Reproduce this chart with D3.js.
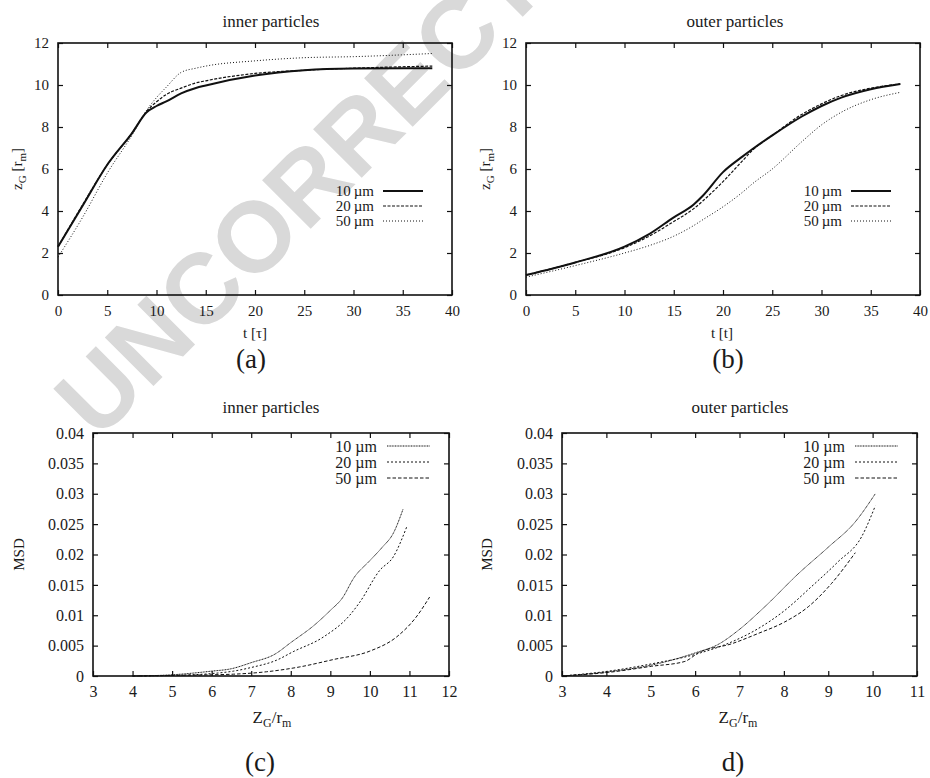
<!DOCTYPE html>
<html>
<head>
<meta charset="utf-8">
<script src="https://cdn.jsdelivr.net/npm/d3@7"></script>
<style>
  body { margin: 0; background: #fff; }
  text { font-family: "Liberation Serif", "DejaVu Serif", serif; fill: #1a1a1a; }
</style>
</head>
<body>
<div id="chart"></div>
<script>
// legend labels
const sizes = ["10 µm", "20 µm", "50 µm"];

// (a) inner particles, z_G vs t
const tInner = [0, 2.5, 5, 7.5, 9, 10, 11, 12.5, 14, 15, 20, 25, 30, 38];
const zInner10 = [2.3, 4.25, 6.2, 7.7, 8.7, 9.0, 9.22, 9.6, 9.86, 9.98, 10.45, 10.7, 10.78, 10.8];
const zInner20 = [2.3, 4.3, 6.2, 7.7, 8.75, 9.2, 9.55, 9.85, 10.1, 10.2, 10.55, 10.7, 10.8, 10.9];
const zInner50 = [1.8, 3.7, 5.8, 7.6, 8.8, 9.4, 9.9, 10.6, 10.8, 10.9, 11.15, 11.3, 11.35, 11.5];

// (b) outer particles, z_G vs t
const tOuter = [0, 5, 10, 12.5, 15, 17, 18, 20, 22, 23, 25, 28, 30, 32, 35, 38];
const zOuter10 = [0.95, 1.55, 2.3, 2.9, 3.7, 4.3, 4.75, 5.85, 6.6, 6.95, 7.6, 8.5, 9.0, 9.4, 9.8, 10.05];
const zOuter20 = [0.95, 1.55, 2.25, 2.8, 3.5, 4.1, 4.5, 5.4, 6.4, 6.9, 7.6, 8.6, 9.1, 9.5, 9.85, 10.05];
const zOuter50 = [0.85, 1.4, 2.0, 2.35, 2.8, 3.3, 3.6, 4.2, 4.9, 5.3, 6.0, 7.3, 8.1, 8.7, 9.3, 9.65];

// (c) inner particles, MSD vs z_G
const msdInner10x = [4, 5, 6, 6.5, 7, 7.6, 8, 8.6, 9, 9.3, 9.6, 10, 10.3, 10.6, 10.84];
const msdInner10y = [0, 0.0002, 0.0008, 0.0012, 0.0022, 0.0036, 0.0055, 0.0084, 0.0108, 0.0128, 0.0162, 0.019, 0.0211, 0.0236, 0.0275];
const msdInner20x = [4, 5, 6, 6.55, 7, 7.64, 8.06, 8.82, 9.49, 9.75, 10.25, 10.59, 10.94];
const msdInner20y = [0, 0.0001, 0.0004, 0.0008, 0.0014, 0.0026, 0.004, 0.0064, 0.010, 0.0122, 0.0174, 0.0196, 0.0247];
const msdInner50x = [4, 5, 6, 6.55, 7.39, 8.23, 9.07, 10, 10.67, 11.17, 11.51];
const msdInner50y = [0, 0.0001, 0.0002, 0.0003, 0.0007, 0.0015, 0.0027, 0.0041, 0.0064, 0.0097, 0.013];

// (d) outer particles, MSD vs z_G
const msdOuter10x = [3, 4.05, 5.02, 6.0, 6.52, 6.97, 7.57, 8.32, 9.0, 9.6, 10.06];
const msdOuter10y = [0, 0.0007, 0.0018, 0.0038, 0.0052, 0.0075, 0.0114, 0.0168, 0.0212, 0.0253, 0.030];
const msdOuter20x = [3, 4.05, 5.02, 6.07, 6.82, 7.42, 8.02, 8.62, 9.22, 9.75, 10.06];
const msdOuter20y = [0, 0.0008, 0.002, 0.0037, 0.0056, 0.0078, 0.0108, 0.0147, 0.0188, 0.0229, 0.028];
const msdOuter50x = [3, 4.05, 5.02, 5.77, 6.07, 6.82, 7.42, 8.02, 8.55, 9.07, 9.61];
const msdOuter50y = [0, 0.0006, 0.0016, 0.0024, 0.0038, 0.0053, 0.007, 0.0089, 0.0114, 0.0152, 0.0203];

const zip = (xs, ys) => xs.map((x, i) => [x, ys[i]]);

// line styles: top row (gnuplot lt 1..3), bottom row
const styleTop = [
  {w: 2.0, dash: null},
  {w: 1.2, dash: "3,1.5"},
  {w: 1.0, dash: "1,2"}
];
const styleBottom = [
  {w: 1.0, dash: "1,0.6"},
  {w: 1.0, dash: "2,2"},
  {w: 1.0, dash: "3.5,2"}
];

var svg = d3.select("#chart").append("svg")
  .attr("width", 930)
  .attr("height", 778);

// watermark behind everything
svg.append("text")
  .attr("x", 348)
  .attr("y", 142)
  .attr("text-anchor", "middle")
  .attr("dominant-baseline", "central")
  .attr("transform", "rotate(-45,348,142)")
  .style("font-family", "'Liberation Sans', Arial, sans-serif")
  .style("font-weight", 700)
  .style("font-size", "100px")
  .style("fill", "#d9d9d9")
  .text("UNCORRECTED");

const panels = [
  {left: 58, right: 452, top: 43, bottom: 295, xDomain: [0, 40], xTicks: d3.range(0, 41, 5),
   yDomain: [0, 12], yTicks: d3.range(0, 13, 2), yFmt: d => d,
   series: [zip(tInner, zInner10), zip(tInner, zInner20), zip(tInner, zInner50)], styles: styleTop,
   title: "inner particles", titleX: 271, titleY: 27, tickSize: 15,
   xlab: "tau", xlabX: 255, xlabY: 338, ylabX: 22, ylab: "zG",
   panel: "(a)", panelX: 251, panelY: 368,
   legRight: 374, legX0: 383, legX1: 423, legY: [191, 206, 221], legFmt: s => s.replace(" ", "\u2009")},
  {left: 526, right: 920, top: 43, bottom: 295, xDomain: [0, 40], xTicks: d3.range(0, 41, 5),
   yDomain: [0, 12], yTicks: d3.range(0, 13, 2), yFmt: d => d,
   series: [zip(tOuter, zOuter10), zip(tOuter, zOuter20), zip(tOuter, zOuter50)], styles: styleTop,
   title: "outer particles", titleX: 735, titleY: 27, tickSize: 15,
   xlab: "t", xlabX: 722, xlabY: 338, ylabX: 490, ylab: "zG",
   panel: "(b)", panelX: 728, panelY: 368,
   legRight: 842, legX0: 851, legX1: 891, legY: [191, 206, 221], legFmt: s => s.replace(" ", "\u2009")},
  {left: 93, right: 449, top: 433, bottom: 676, xDomain: [3, 12], xTicks: d3.range(3, 13, 1),
   yDomain: [0, 0.04], yTicks: d3.range(0, 9).map(i => i * 0.005), yFmt: d => String(+d.toFixed(3)),
   series: [zip(msdInner10x, msdInner10y), zip(msdInner20x, msdInner20y), zip(msdInner50x, msdInner50y)], styles: styleBottom,
   title: "inner particles", titleX: 271, titleY: 413, tickSize: 16,
   xlab: "ratio", xlabX: 272, xlabY: 723, ylabX: 24, ylab: "MSD",
   panel: "(c)", panelX: 260, panelY: 771,
   legRight: 377, legX0: 387, legX1: 430, legY: [446, 462, 478], legFmt: s => s},
  {left: 562, right: 917, top: 433, bottom: 676, xDomain: [3, 11], xTicks: d3.range(3, 12, 1),
   yDomain: [0, 0.04], yTicks: d3.range(0, 9).map(i => i * 0.005), yFmt: d => String(+d.toFixed(3)),
   series: [zip(msdOuter10x, msdOuter10y), zip(msdOuter20x, msdOuter20y), zip(msdOuter50x, msdOuter50y)], styles: styleBottom,
   title: "outer particles", titleX: 740, titleY: 413, tickSize: 16,
   xlab: "ratio", xlabX: 738, xlabY: 723, ylabX: 492, ylab: "MSD",
   panel: "d)", panelX: 733, panelY: 771,
   legRight: 845, legX0: 855, legX1: 898, legY: [446, 462, 478], legFmt: s => s}
];

panels.forEach(drawPanel);

function drawPanel(p) {
  var g = svg.append("g");
  var x = d3.scaleLinear().domain(p.xDomain).range([p.left, p.right]);
  var y = d3.scaleLinear().domain(p.yDomain).range([p.bottom, p.top]);
  var tick = 5;

  // bottom + left axes with inward ticks
  g.append("g")
    .attr("transform", "translate(0," + p.bottom + ")")
    .call(d3.axisBottom(x).tickValues(p.xTicks).tickSizeInner(-tick).tickSizeOuter(0).tickPadding(10));
  g.append("g")
    .attr("transform", "translate(" + p.left + ",0)")
    .call(d3.axisLeft(y).tickValues(p.yTicks).tickFormat(p.yFmt).tickSizeInner(-tick).tickSizeOuter(0).tickPadding(9));
  // mirrored ticks
  g.append("g")
    .attr("transform", "translate(0," + p.top + ")")
    .call(d3.axisTop(x).tickValues(p.xTicks).tickSizeInner(-tick).tickSizeOuter(0).tickFormat(""));
  g.append("g")
    .attr("transform", "translate(" + p.right + ",0)")
    .call(d3.axisRight(y).tickValues(p.yTicks).tickSizeInner(-tick).tickSizeOuter(0).tickFormat(""));

  g.selectAll(".domain").remove();
  g.selectAll("g").attr("font-family", "Liberation Serif");
  g.selectAll(".tick line").attr("stroke", "#111").attr("stroke-width", 1.2);
  g.selectAll(".tick text")
    .style("font-family", "'Liberation Serif', serif")
    .style("font-size", p.tickSize + "px")
    .attr("fill", "#1a1a1a");

  // frame
  g.append("rect")
    .attr("x", p.left).attr("y", p.top)
    .attr("width", p.right - p.left).attr("height", p.bottom - p.top)
    .attr("fill", "none").attr("stroke", "#111").attr("stroke-width", 1.6);

  // curves
  var line = d3.line()
    .x(d => x(d[0]))
    .y(d => y(d[1]))
    .curve(d3.curveMonotoneX);

  p.series.forEach(function(s, i) {
    g.append("path")
      .datum(s)
      .attr("d", line)
      .attr("fill", "none")
      .attr("stroke", "#111")
      .attr("stroke-width", p.styles[i].w)
      .attr("stroke-dasharray", p.styles[i].dash);
  });

  // legend
  sizes.forEach(function(s, i) {
    g.append("text")
      .attr("x", p.legRight)
      .attr("y", p.legY[i])
      .attr("dy", "0.35em")
      .attr("text-anchor", "end")
      .style("font-size", p.tickSize + "px")
      .text(p.legFmt(s));
    g.append("line")
      .attr("x1", p.legX0).attr("x2", p.legX1)
      .attr("y1", p.legY[i]).attr("y2", p.legY[i])
      .attr("stroke", "#111")
      .attr("stroke-width", p.styles[i].w)
      .attr("stroke-dasharray", p.styles[i].dash);
  });

  // title
  g.append("text")
    .attr("x", p.titleX).attr("y", p.titleY)
    .attr("text-anchor", "middle")
    .style("font-size", "17px")
    .text(p.title);

  // x label
  var xl = g.append("text")
    .attr("x", p.xlabX).attr("y", p.xlabY)
    .attr("text-anchor", "middle")
    .style("font-size", "15px");
  if (p.xlab === "tau") {
    xl.text("t [\u03c4]");
  } else if (p.xlab === "t") {
    xl.text("t [t]");
  } else {
    xl.style("font-size", "17px");
    xl.append("tspan").text("Z");
    xl.append("tspan").attr("dy", 4).style("font-size", "12px").text("G");
    xl.append("tspan").attr("dy", -4).text("/r");
    xl.append("tspan").attr("dy", 4).style("font-size", "12px").text("m");
  }

  // y label
  var cy = (p.top + p.bottom) / 2;
  var yl = g.append("text")
    .attr("transform", "translate(" + p.ylabX + "," + cy + ") rotate(-90)")
    .attr("text-anchor", "middle")
    .style("font-size", "15px");
  if (p.ylab === "MSD") {
    yl.text("MSD");
  } else {
    yl.append("tspan").text("z");
    yl.append("tspan").attr("dy", 4).style("font-size", "11px").text("G");
    yl.append("tspan").attr("dy", -4).text(" [r");
    yl.append("tspan").attr("dy", 4).style("font-size", "11px").text("m");
    yl.append("tspan").attr("dy", -4).text("]");
  }

  // panel letter
  g.append("text")
    .attr("x", p.panelX).attr("y", p.panelY)
    .attr("text-anchor", "middle")
    .style("font-size", "27px")
    .text(p.panel);
}
</script>
</body>
</html>
